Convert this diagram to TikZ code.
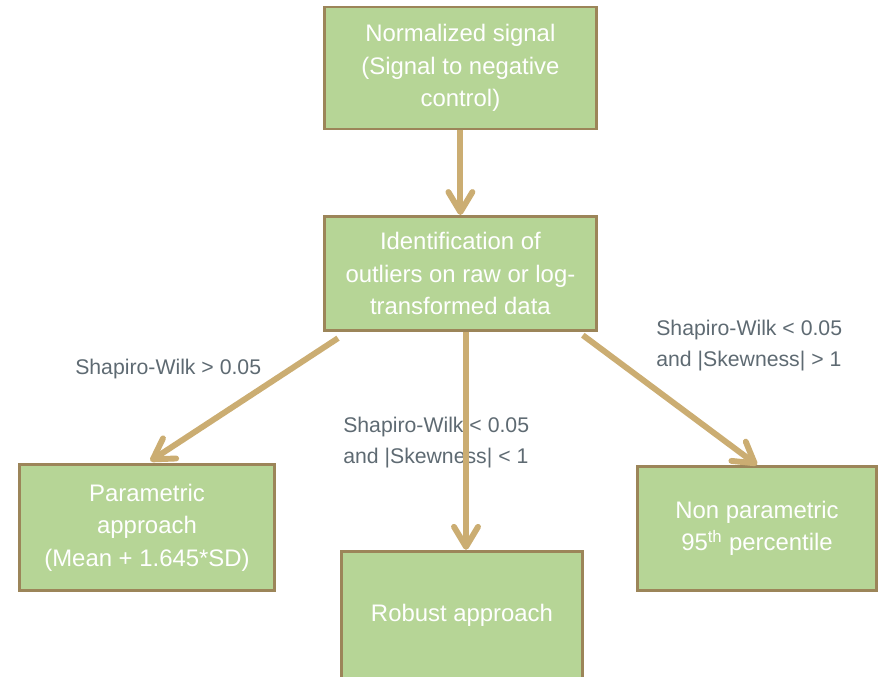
\documentclass[tikz,border=0pt]{standalone}
\usepackage{tikz}
\usepackage{xcolor}
\usepackage{fontspec}
\setmainfont{Liberation Sans}
\usetikzlibrary{arrows.meta}
\definecolor{boxgreen}{HTML}{B6D596}
\definecolor{boxedge}{HTML}{9C8559}
\definecolor{arrowtan}{HTML}{CBAD72}
\definecolor{labelgrey}{HTML}{5E6A72}
\tikzstyle{block} = [rectangle,
                     minimum width=6.8cm,
                     minimum height=3.05cm,
                     align=center,
                     font=\fontsize{17}{23.1}\selectfont,
                     text=white,
                     draw=boxedge,
                     line width=2pt,
                     fill=boxgreen]
\tikzstyle{cond} = [align=left,
                    anchor=west,
                    inner sep=0pt,
                    text=labelgrey,
                    font=\fontsize{15.1}{22}\selectfont]
\tikzstyle{arrow} = [line width=4.2pt,
                     draw=arrowtan,
                     -{Straight Barb[length=5mm,width=6mm,round]}]

\begin{document}
\begin{tikzpicture}[node distance=5.14cm]

    \useasboundingbox (0,0) rectangle (22,-16.925);

    \node (norm)   [block] at (11.51,-1.70)                                    {Normalized signal\\(Signal to negative\\control)};
    \node (ident)  [block,  below of=norm,  minimum height=2.86cm]                {Identification of\\outliers on raw or log-\\transformed data};
    \node (param)  [block,  below of=ident, xshift=-7.835cm, yshift=-1.21cm,
                    minimum width=6.38cm, minimum height=3.15cm]                 {Parametric\\approach\\(Mean + 1.645*SD)};
    \node (robust) [block,  below of=ident, xshift=0.04cm,   yshift=-3.4cm,
                    minimum width=6.03cm, minimum height=3.2cm]                  {Robust approach};
    \node (nonpar) [block,  below of=ident, xshift=7.415cm,  yshift=-1.23cm,
                    minimum width=5.98cm, minimum height=3.1cm]                  {Non parametric\\95\textsuperscript{th} percentile};

    \node (gtlab)  [cond] at (1.875,-9.225) {Shapiro-Wilk > 0.05};
    \node (ltlab)  [cond] at (8.575,-11.075) {Shapiro-Wilk < 0.05\\and |Skewness| < 1};
    \node (skwlab) [cond] at (16.4,-8.64)   {Shapiro-Wilk < 0.05\\and |Skewness| > 1};

    \draw [arrow] (norm.south) -- (ident.north);
    \draw [arrow, shorten >=0.1cm] ([xshift=0.375cm,yshift=-0.15cm]ident.south west) -- (param.north);
    \draw [arrow] ([xshift=0.14cm]ident.south) -- ([xshift=0.14cm]ident.south |- robust.north);
    \draw [arrow] ([xshift=-0.375cm,yshift=-0.075cm]ident.south east) -- (nonpar.north);

\end{tikzpicture}
\end{document}
